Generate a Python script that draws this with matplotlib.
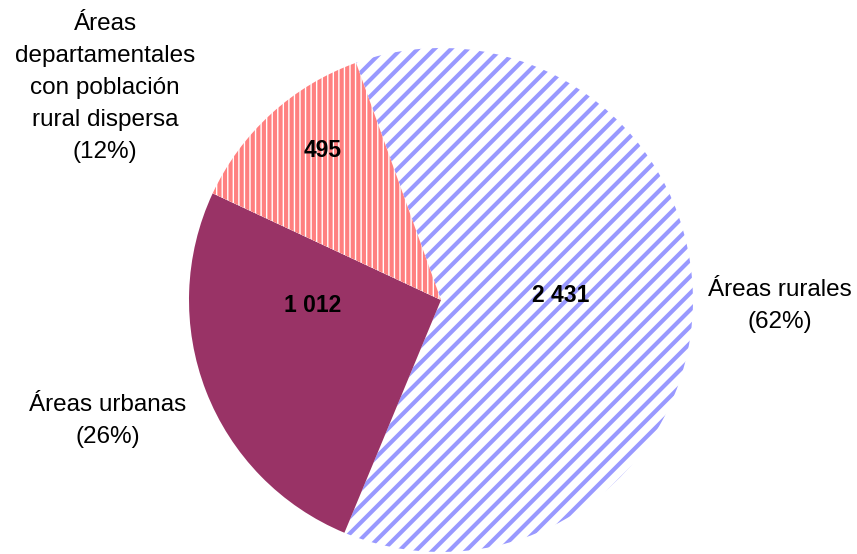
import matplotlib
matplotlib.use("Agg")
import matplotlib.pyplot as plt

# Data
categories = ["Áreas rurales", "Áreas urbanas",
              "Áreas\ndepartamentales\ncon población\nrural dispersa"]
values = [2431, 1012, 495]
value_labels = ["2 431", "1 012", "495"]
percent_labels = ["(62%)", "(26%)", "(12%)"]

plt.rcParams["font.family"] = ["Liberation Sans", "DejaVu Sans"]
plt.rcParams["hatch.linewidth"] = 3.0

W, H = 857, 554
fig = plt.figure(figsize=(W / 100, H / 100), dpi=100)
cx, cy, r = 441, 300, 252
ax = fig.add_axes([(cx - r) / W, (H - cy - r) / H, 2 * r / W, 2 * r / H])

wedges, _ = ax.pie(values, radius=1, startangle=109.7, counterclock=False,
                   center=(0, 0), frame=False)
ax.set_xlim(-1, 1)
ax.set_ylim(-1, 1)
ax.set_aspect("equal")
ax.axis("off")

styles = [
    dict(facecolor="white", edgecolor="#9999FF", hatch="//"),
    dict(facecolor="#993366", edgecolor="#993366", hatch=None),
    dict(facecolor="white", edgecolor="#FF8080", hatch="|||"),
]
for w, st in zip(wedges, styles):
    w.set_facecolor(st["facecolor"])
    w.set_edgecolor(st["edgecolor"])
    w.set_linewidth(0)
    w.set_clip_on(False)
    if st["hatch"]:
        w.set_hatch(st["hatch"])

# value labels inside slices
value_pos = [(0.476, 0.016), (-0.508, -0.020), (-0.468, 0.595)]
for (x, y), t in zip(value_pos, value_labels):
    ax.text(x, y, t, ha="center", va="center", fontsize=16.5, fontweight="bold",
            color="black")

# category labels outside
label_pos = [(1.345, -0.024), (-1.321, -0.48), (-1.333, 0.841)]
for (x, y), c, p in zip(label_pos, categories, percent_labels):
    ax.text(x, y, c + "\n" + p, ha="center", va="center", fontsize=17.5,
            linespacing=1.6, color="black", clip_on=False)

fig.savefig("out.png", dpi=100)
